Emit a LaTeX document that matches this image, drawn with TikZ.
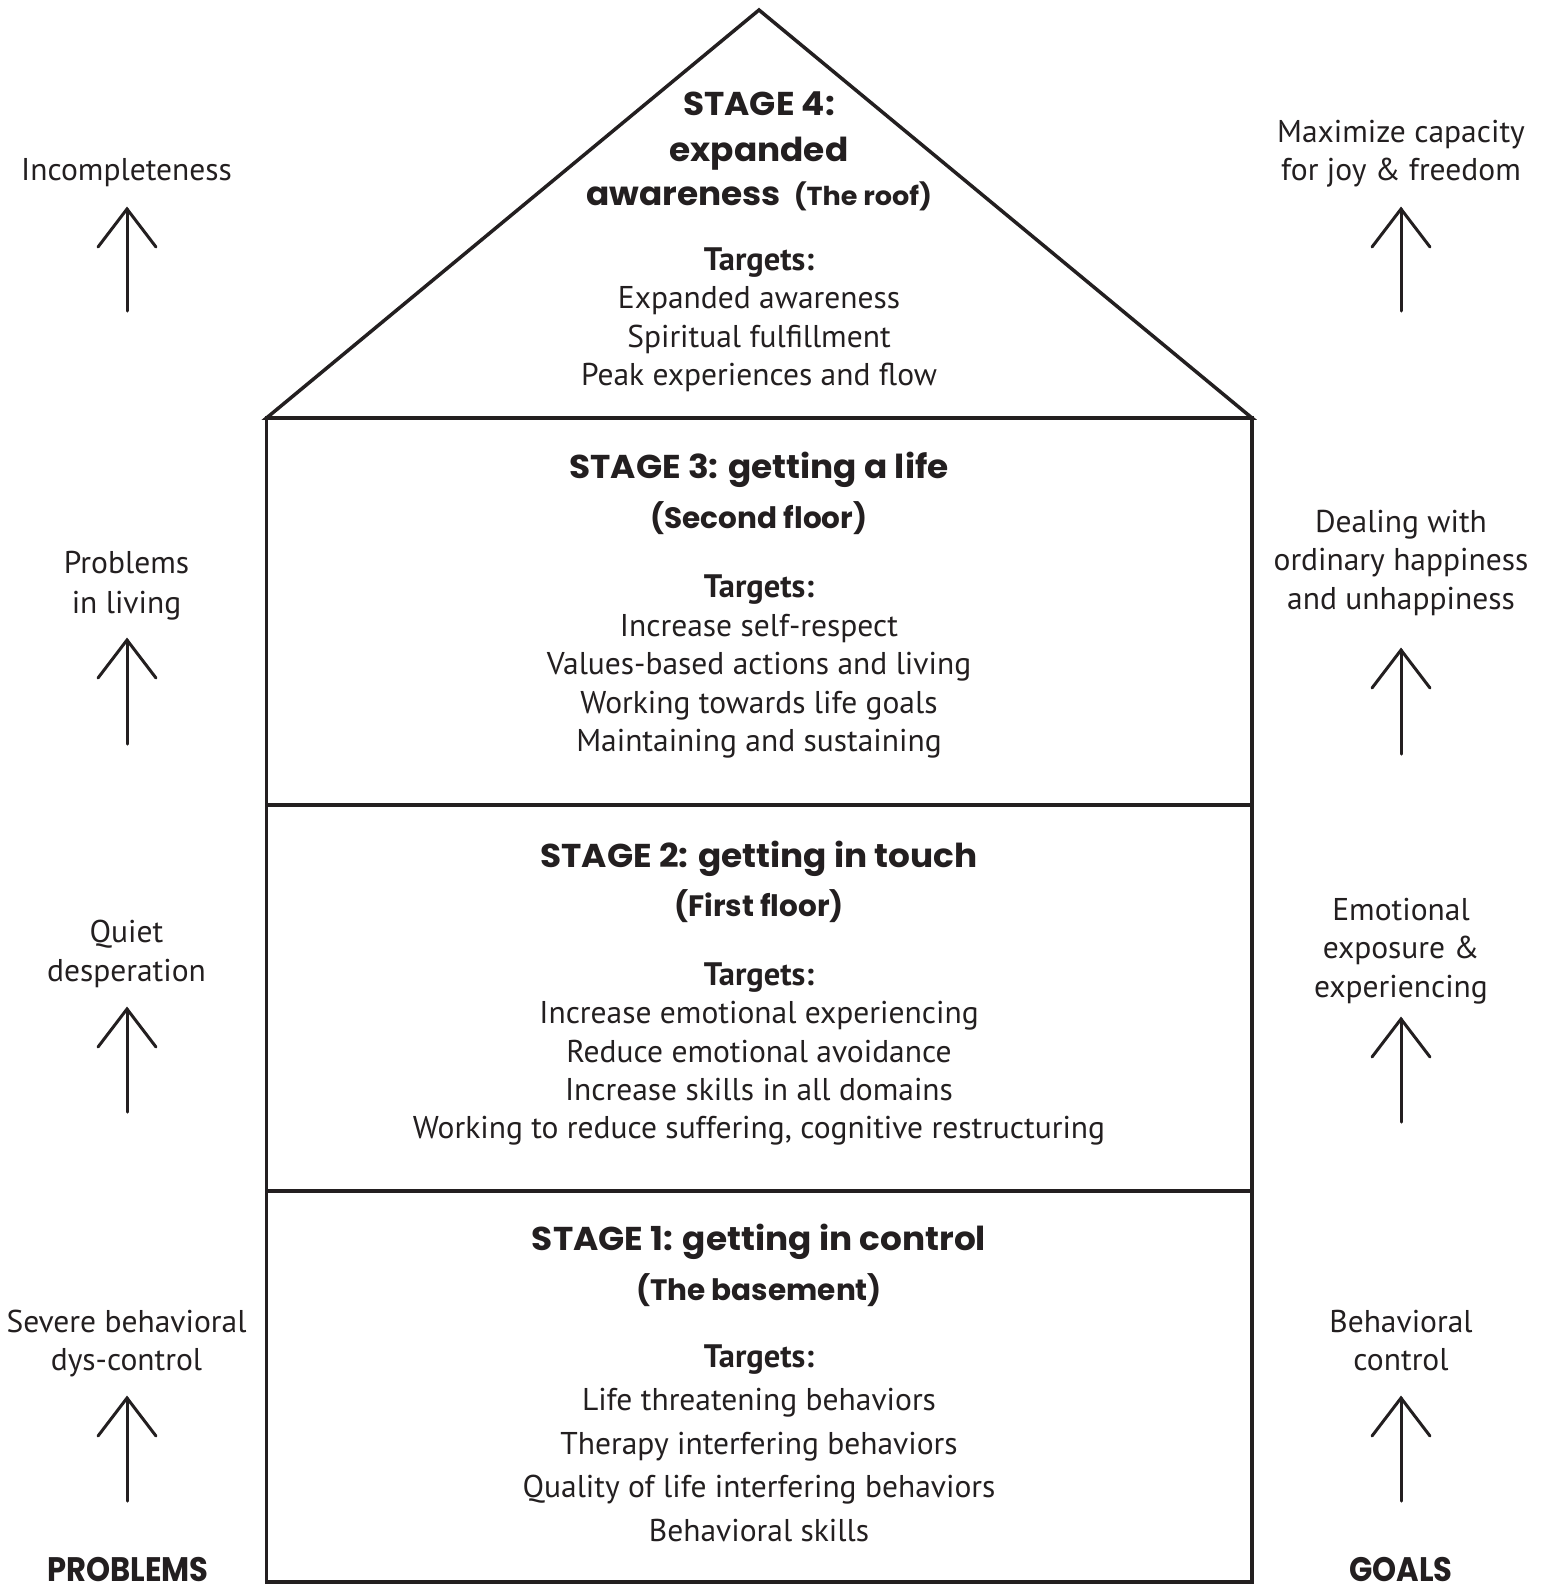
\documentclass[tikz,border=0pt]{standalone}
\usepackage{fontspec}
\usetikzlibrary{calc}
\setmainfont{PT Sans}
\newfontfamily\headfont{Poppins}
\definecolor{ink}{HTML}{231F20}
\newcommand{\hwide}[1]{\scalebox{1.04}[1]{#1}}
\newcommand{\hnarrow}[1]{\scalebox{0.9}[1]{#1}}
\begin{document}
\begin{tikzpicture}[x=1pt,y=-1pt,
  body/.style={font=\fontsize{31.5}{36}\selectfont, anchor=base, inner sep=0pt, text=ink},
  tgt/.style={body, font=\fontsize{32.5}{36}\selectfont\bfseries},
  head/.style={font=\headfont\bfseries\fontsize{33}{38}\selectfont, anchor=base, inner sep=0pt, text=ink},
  sub/.style={font=\headfont\bfseries\fontsize{29.5}{34}\selectfont, anchor=base, inner sep=0pt, text=ink},
  side/.style={font=\headfont\bfseries\fontsize{34}{40}\selectfont, anchor=base, inner sep=0pt, text=ink},
  wall/.style={draw=ink, line width=3.5pt, line join=miter},
  uparr/.style={draw=ink, line width=3pt, line cap=round}]
\useasboundingbox (0,0) rectangle (1542,1585);
% house
\coordinate (apex) at (759,10);
\coordinate (tl) at (266.5,418);
\coordinate (tr) at (1252,418);
\coordinate (bl) at (266.5,1582);
\coordinate (br) at (1252,1582);
\draw[wall] (tl) -- (apex) -- (tr) -- cycle;
\draw[wall] (tl) rectangle (br);
\draw[wall] (266.5,805) -- (1252,805);
\draw[wall] (266.5,1191) -- (1252,1191);
% arrows
\foreach \x/\t/\b [count=\i] in {127/209/311, 127/640/744, 127/1009/1112, 127/1398/1501,
                                 1401/209/311, 1401/650/754, 1401/1019/1122, 1401/1398/1501}{
  \coordinate (ab\i) at (\x,\b);
  \coordinate (at\i) at (\x,\t);
  \draw[uparr] (ab\i) -- (at\i);
  \draw[uparr] ($(at\i)+(-29,38)$) -- (at\i) -- ($(at\i)+(29,38)$);
}
% left labels
\foreach \y/\s [count=\i] in {170/Incompleteness, 563/Problems, 603/in living, 932/Quiet, 971/desperation, 1322/Severe behavioral, 1360/dys-control}
  \node[body] (L\i) at (126.5,\y+10) {\s};
% right labels
\foreach \y/\s [count=\i] in {132/Maximize capacity, 170/for joy \& freedom, 522/Dealing with, 560/ordinary happiness, 599/and unhappiness, 910/Emotional, 948/exposure \&, 987/experiencing, 1322/Behavioral, 1360/control}
  \node[body] (R\i) at (1401,\y+10) {\s};
\node[side] (problems) at (128,1581) {\hnarrow{PROBLEMS}};
\node[side] (goals) at (1401,1581) {\hnarrow{GOALS}};
% stage 4
\node[head] (s4a) at (759,104+11) {\hwide{STAGE 4:}};
\node[head] (s4b) at (759,150+11) {\hwide{expanded}};
\node[head] (s4c) at (759,194+11) {\hwide{awareness \,{\fontsize{26}{30}\selectfont (The roof)}}};
\node[tgt] (t4) at (759,260+10) {Targets:};
\foreach \y/\s [count=\i] in {298/Expanded awareness, 337/Spiritual fulfillment, 375/Peak experiences and flow}
  \node[body] (s4l\i) at (759,\y+10) {\s};
% stage 3
\node[head] (s3a) at (759,467+11) {\hwide{STAGE 3: getting a life}};
\node[sub] (s3b) at (759,518+10) {(Second floor)};
\node[tgt] (t3) at (759,587+10) {Targets:};
\foreach \y/\s [count=\i] in {626/Increase self-respect, 664/Values-based actions and living, 703/Working towards life goals, 741/Maintaining and sustaining}
  \node[body] (s3l\i) at (759,\y+10) {\s};
% stage 2
\node[head] (s2a) at (759,856+11) {\hwide{STAGE 2: getting in touch}};
\node[sub] (s2b) at (759,906+10) {(First floor)};
\node[tgt] (t2) at (759,975+10) {Targets:};
\foreach \y/\s [count=\i] in {1013/Increase emotional experiencing, 1052/Reduce emotional avoidance, 1090/Increase skills in all domains, 1128/{Working to reduce suffering, cognitive restructuring}}
  \node[body] (s2l\i) at (759,\y+10) {\s};
% stage 1
\node[head] (s1a) at (759,1239+11) {\hwide{STAGE 1: getting in control}};
\node[sub] (s1b) at (759,1290+10) {(The basement)};
\node[tgt] (t1) at (759,1357+10) {Targets:};
\foreach \y/\s [count=\i] in {1400/Life threatening behaviors, 1444/Therapy interfering behaviors, 1487/Quality of life interfering behaviors, 1531/Behavioral skills}
  \node[body] (s1l\i) at (759,\y+10) {\s};
\end{tikzpicture}
\end{document}
